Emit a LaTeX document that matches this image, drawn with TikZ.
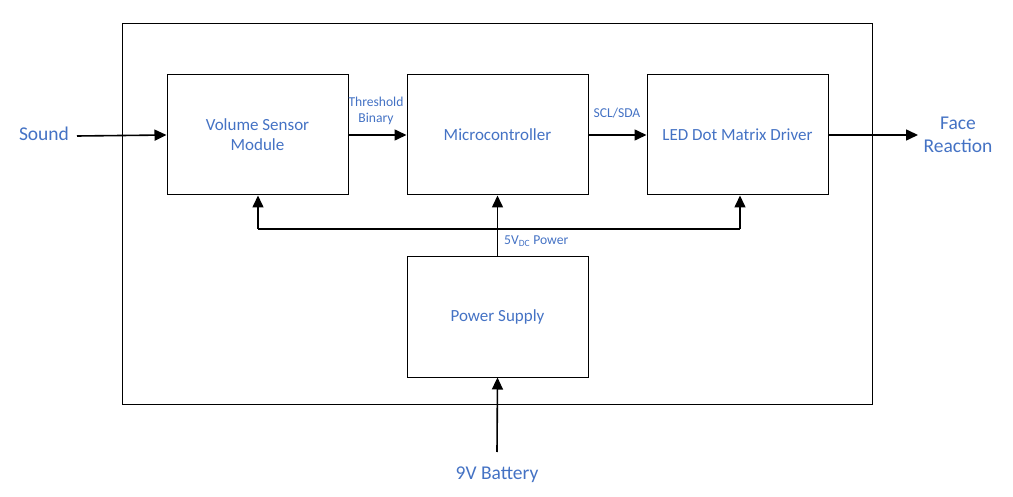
\documentclass[tikz,border=0pt]{standalone}
\usepackage{fontspec}
\setmainfont{Carlito}
\usetikzlibrary{arrows.meta}
\definecolor{lblue}{HTML}{4472C4}
\begin{document}
\begin{tikzpicture}[x=1pt,y=-1pt,
  blk/.style={draw=black,line width=1pt,minimum width=181pt,minimum height=120pt,inner sep=0pt,text=lblue,font=\fontsize{17}{20}\selectfont,align=center},
  ext/.style={text=lblue,font=\fontsize{19.5}{23}\selectfont,align=center,inner sep=0pt},
  sml/.style={text=lblue,font=\fontsize{13.6}{16}\selectfont,align=center,inner sep=0pt},
  arr/.style={line width=1.6pt,-{Triangle[length=12pt,width=11pt]}},
  ln/.style={line width=1.6pt}]
\useasboundingbox (0,0) rectangle (1013,497);
\node[draw=black,line width=1pt,minimum width=750pt,minimum height=380pt,inner sep=0pt] (outer) at (497,214) {};
\node[blk] (vol) at (257.5,135) {Volume Sensor\\Module};
\node[blk] (mcu) at (497.5,135) {Microcontroller};
\node[blk] (led) at (737.5,135) {LED Dot Matrix Driver};
\node[blk] (psu) at (497.5,317) {Power Supply};
\node[ext] (sound) at (44,134) {Sound};
\node[ext,text width=90pt] (face) at (958,135) {Face\\Reaction};
\node[ext] (bat) at (497,475) {9V Battery};
\node[sml] (thr) at (376,111) {Threshold\\Binary};
\node[sml] (scl) at (617,113) {SCL/SDA};
\node[sml,anchor=west] (pwr) at (504,241) {5V\textsubscript{DC} Power};
\coordinate (sndend) at (77,136);
\coordinate (faceend) at (918,135);
\coordinate (batend) at (497,452);
\coordinate (busL) at (258,229);
\coordinate (busM) at (497.5,229);
\coordinate (busR) at (740,229);
\draw[arr] (sndend) -- (vol.west);
\draw[arr] (vol.east) -- (mcu.west);
\draw[arr] (mcu.east) -- (led.west);
\draw[arr] (led.east) -- (faceend);
\draw[arr] (batend) -- (psu.south);
\draw[arr] (psu.north) -- (mcu.south);
\draw[ln] (busL) -- (busR);
\draw[arr] (busL) -- (busL |- vol.south);
\draw[arr] (busR) -- (busR |- led.south);
\end{tikzpicture}
\end{document}
